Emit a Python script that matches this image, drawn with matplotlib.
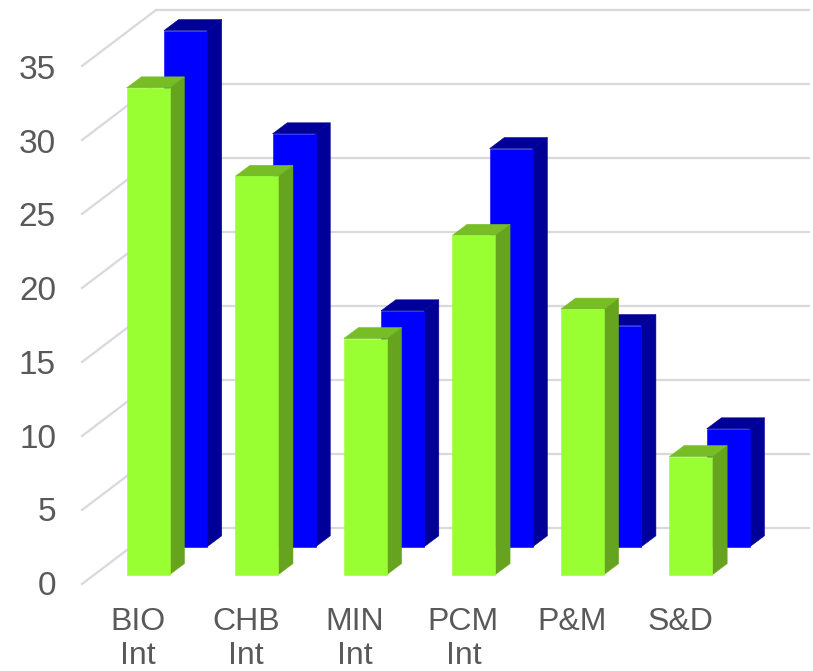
import matplotlib
matplotlib.use('Agg')
import matplotlib.pyplot as plt

plt.rcParams['font.family'] = ['Liberation Sans', 'DejaVu Sans']

categories = ['BIO\nInt', 'CHB\nInt', 'MIN\nInt', 'PCM\nInt', 'P&M', 'S&D']
green_values = [33, 27, 16, 23, 18, 8]
blue_values = [35, 28, 16, 27, 15, 8]
y_ticks = [0, 5, 10, 15, 20, 25, 30, 35]

# pixel scale of the picture: one category step / one value unit
step = 108.55
unit = 14.75
x0 = 126.7
y0 = 574.6

W, H = 813, 671
fig = plt.figure(figsize=(W / 100, H / 100), dpi=100)
ax = fig.add_axes([0, 0, 1, 1])
ax.set_xlim(-x0 / step, (W - x0) / step)
ax.set_ylim((y0 - H) / unit, y0 / unit)
ax.axis('off')

bar_w = 43.0 / step
dx = 14.7 / step   # bar depth
dy = 11 / unit
blue_dx = 37.3 / step
blue_dy = 27.8 / unit


def bar3d(x, base, val, front, side, top, z):
    xr = x + bar_w
    h = base + val
    ax.fill([xr, xr + dx, xr + dx, xr], [base, base + dy, h + dy, h], color=side, lw=0.4, zorder=z)
    ax.fill([x, x + dx, xr + dx, xr], [h, h + dy, h + dy, h], color=top, lw=0.4, zorder=z)
    ax.bar(x, val, width=bar_w, bottom=base, align='edge', color=front, edgecolor=front,
           linewidth=0.4, zorder=z + 0.001)


# back wall grid and the slanted lines on the left side
wall_dy = 46.6 / unit
grid_scale = 14.8 / unit
wall_left = (156 - x0) / step
wall_right = (810 - x0) / step
tick_left = (82 - x0) / step
slant = 56 / unit
for t in y_ticks:
    yb = t * grid_scale + wall_dy
    ax.plot([wall_left, wall_right], [yb, yb], color='#D9D9D9', lw=1.6, zorder=1,
            solid_capstyle='butt')
    ax.plot([tick_left, wall_left], [yb - slant, yb], color='#D9D9D9', lw=1.6, zorder=1)
    ax.text((56 - x0) / step, t + (y0 - 595) / unit, str(t), ha='right', va='baseline',
            fontsize=24, color='#595959')

for i, v in enumerate(blue_values):
    bar3d(i + blue_dx, blue_dy, v, '#0000FF', '#000099', '#000099', 2 + i * 0.01)
for i, v in enumerate(green_values):
    bar3d(i, 0, v, '#99FF33', '#66A31F', '#77BD25', 3 + i * 0.01)

for i, c in enumerate(categories):
    for line, y_px in zip(c.split('\n'), [630, 664.5]):
        ax.text(i + 11 / step, (y0 - y_px) / unit, line, ha='center', va='baseline',
                fontsize=23, color='#595959')

fig.savefig('out.png', dpi=100, facecolor='white')
